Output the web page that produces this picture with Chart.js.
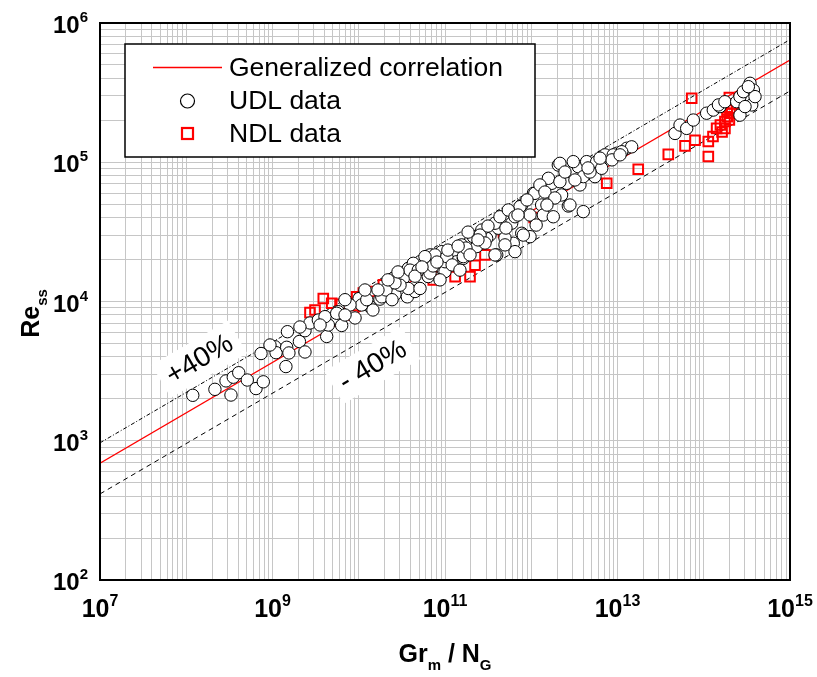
<!DOCTYPE html>
<html>
<head>
<meta charset="utf-8">
<script src="https://cdn.jsdelivr.net/npm/chart.js@4.4.0/dist/chart.umd.min.js"></script>
<style>
  html, body { margin: 0; padding: 0; background: #fff; }
</style>
</head>
<body>
<canvas id="chart" width="817" height="677"></canvas>
<script>
// UDL data (open circles), Gr_m / N_G vs Re_ss
const udlX = [
  1.19e8, 2.15e8, 2.89e8, 3.30e8, 3.51e8, 4.06e8, 5.1e8, 6.44e8, 7.82e8, 7.36e8,
  1.07e9, 1.10e9, 1.46e9, 1.55e9, 1.43e9, 2.05e9, 2.38e9, 1.49e9, 2.38e9, 2.72e9,
  4.25e9, 4.44e9, 6.34e9, 9.06e9, 3.40e9, 5.79e9, 1.01e10, 1.35e10, 1.46e10, 1.76e10,
  2.63e10, 3.66e10, 4.49e10, 4.06e9, 5.55e9, 1.08e10, 1.24e10, 2.52e10, 3.29e10, 3.76e10,
  3.76e10, 1.85e10, 6.40e10, 9.55e10, 9.16e10, 6.70e10, 5.13e10, 4.29e10, 3.93e10, 4.90e10,
  5.13e10, 6.70e10, 6.14e10, 7.66e10, 1.0e11, 1.0e11, 1.25e11, 1.37e11, 1.63e11, 1.95e11,
  2.33e11, 3.32e11, 4.15e11, 3.98e11, 6.19e11, 6.48e11, 7.75e11, 7.75e11, 5.93e11, 4.74e11,
  3.80e11, 3.04e11, 2.67e11, 2.13e11, 1.56e11, 5.93e11, 7.41e11, 9.68e11, 1.06e12, 1.32e12,
  1.73e12, 2.06e12, 2.58e12, 2.69e12, 3.07e12, 3.67e12, 3.51e12, 4.39e12, 5.48e12, 5.74e12,
  4.01e12, 7.82e12, 9.79e12, 1.28e13, 1.46e13, 6.56e12, 7.16e12, 1.12e13, 5.86e10, 1.05e11,
  1.63e11, 2.55e11, 3.80e11, 4.34e11, 5.42e11, 6.48e11, 8.09e11, 1.10e12, 1.38e12, 1.80e12,
  1.58e12, 2.15e12, 2.25e12, 2.81e12, 2.15e12, 3.07e12, 4.01e12, 8.93e12, 4.64e13, 5.31e13,
  6.34e13, 7.57e13, 1.08e14, 1.29e14, 1.54e14, 2.63e14, 3.60e14, 1.48e14, 1.76e14, 2.41e14,
  2.63e14, 2.88e14, 3.44e14, 3.76e14, 3.93e14, 3.01e14, 3.29e14, 3.01e10, 2.07e10, 7.26e10,
  1.21e11, 1.75e11, 2.91e11, 4.96e11, 9.68e11, 1.26e12, 3.21e12, 4.80e12, 8.63e12, 7.92e9,
  6.93e9, 3.56e9, 2.63e10, 1.67e10, 1.18e10, 2.18e10, 2.85e10, 4.49e10, 5.41e10, 8.07e10,
  1.08e11, 1.42e11, 1.85e11, 2.41e11, 3.15e11, 5.09e11, 7.02e11, 8.93e11, 1.44e12, 1.88e12,
  2.46e12, 4.55e12, 6.27e12, 1.07e13, 1.95e11, 8.75e10, 2.43e10, 6.93e9, 2.08e9, 9.35e8,
  1.14e12, 1.52e12, 4.96e11, 1.49e11
];
const udlY = [
  2120, 2340, 2690, 2130, 2860, 3080, 2730, 2370, 2650, 4230,
  4730, 4290, 4690, 4270, 3410, 5160, 4340, 6070, 6170, 7010,
  5610, 6780, 6730, 7620, 7360, 8450, 10500, 9180, 8690, 10400,
  11200, 10800, 11800, 7780, 8230, 9440, 10300, 14700, 14700, 17300,
  12400, 10800, 15100, 16800, 22800, 21600, 19300, 18800, 16800, 16800,
  12400, 16000, 19300, 21600, 16400, 19300, 22800, 19300, 20400, 26900,
  24800, 30000, 33600, 21600, 26200, 22800, 30900, 49300, 43000, 38500,
  36500, 28400, 32600, 29200, 25500, 36500, 48000, 29200, 59800, 49300,
  70600, 95500, 70600, 48500, 85500, 68700, 92900, 101000, 78800, 101000,
  44200, 110000, 116000, 126000, 129000, 90500, 113000, 119000, 21000, 21000,
  21000, 30000, 21600, 40600, 45400, 40600, 30000, 59800, 41800, 40600,
  76700, 72500, 58200, 49300, 98200, 101000, 78800, 113000, 161000, 185000,
  175000, 201000, 225000, 237000, 251000, 218000, 258000, 258000, 272000, 272000,
  296000, 321000, 369000, 330000, 296000, 251000, 349000, 13100, 12100, 18000,
  18300, 24200, 26300, 28600, 41800, 68700, 74600, 85100, 104000, 9440,
  8000, 6780, 13600, 12100, 12100, 14300, 16300, 15200, 17700, 19200,
  23400, 25000, 31500, 27700, 34800, 33700, 41800, 53600, 61100, 55400,
  85100, 91000, 107000, 113000, 21600, 14300, 10300, 10300, 6560, 4870,
  35400, 49300, 25500, 16800
];

// NDL data (red squares)
const ndlX = [
  3.11e9, 3.88e9, 4.86e9, 6.07e9, 2.72e9, 8.65e9, 9.46e9, 1.13e10, 1.47e10, 1.93e10,
  7.31e10, 8.36e10, 1.31e11, 1.95e11, 2.23e11, 2.91e11, 4.77e11, 1.08e12, 7.50e12, 1.74e13,
  3.88e13, 6.07e13, 7.92e13, 1.13e14, 1.13e14, 1.28e14, 1.41e14, 1.56e14, 1.76e14, 7.25e13,
  1.98e14, 1.87e14, 2.01e14, 1.87e14, 2.11e14, 1.98e14, 1.76e14, 2.18e14, 1.63e14
];
const ndlY = [
  8690, 10500, 9710, 9550, 8320, 8000, 10800, 11500, 11800, 13200,
  14300, 17700, 15100, 15100, 18200, 21600, 31300, 40100, 70600, 89000,
  114000, 131000, 144000, 110000, 141000, 153000, 175000, 185000, 175000, 288000,
  292000, 237000, 225000, 212000, 244000, 201000, 196000, 262000, 165000
];

// correlation line and +/-40 % band, end points at the plot edges
const lineX = [1e7, 1e15];
const corrY = [690, 5.42e5];
const plusY = [966, 7.6e5];
const minusY = [415, 3.25e5];

// decade labels
const xLabelExps = [7, 9, 11, 13, 15];
const yLabelExps = [2, 3, 4, 5, 6];

const FONT = '"Liberation Sans", Arial, sans-serif';

function toPoints(xs, ys) {
  return xs.map((x, i) => ({ x, y: ys[i] }));
}

// 1..9 x 10^n grid lines for a log axis
function logGrid(minExp, maxExp) {
  const values = [];
  for (let e = minExp; e < maxExp; e++) {
    for (let m = 1; m < 10; m++) values.push(m * Math.pow(10, e));
  }
  values.push(Math.pow(10, maxExp));
  return values.map((value) => ({ value }));
}

function drawPower(ctx, exp, x, baseY, supY, align, bigSize, smallSize) {
  ctx.font = `bold ${bigSize}px ${FONT}`;
  const w1 = ctx.measureText("10").width;
  ctx.font = `bold ${smallSize}px ${FONT}`;
  const w2 = ctx.measureText(String(exp)).width;
  const total = w1 + w2;
  const left = align === "center" ? x - total / 2 : x - total;
  ctx.textAlign = "left";
  ctx.textBaseline = "alphabetic";
  ctx.font = `bold ${bigSize}px ${FONT}`;
  ctx.fillText("10", left, baseY);
  ctx.font = `bold ${smallSize}px ${FONT}`;
  ctx.fillText(String(exp), left + w1, supY);
}

// text run with subscripts: [[text, isSub], ...]
function drawRuns(ctx, runs, x, y, bigSize, smallSize, subShift) {
  let cx = x;
  runs.forEach(([text, sub]) => {
    ctx.font = `bold ${sub ? smallSize : bigSize}px ${FONT}`;
    ctx.fillText(text, cx, sub ? y + subShift : y);
    cx += ctx.measureText(text).width;
  });
  return cx - x;
}

function runsWidth(ctx, runs, bigSize, smallSize) {
  let w = 0;
  runs.forEach(([text, sub]) => {
    ctx.font = `bold ${sub ? smallSize : bigSize}px ${FONT}`;
    w += ctx.measureText(text).width;
  });
  return w;
}

const bandLabels = {
  id: "bandLabels",
  beforeDatasetsDraw(chart) {
    const { ctx, scales } = chart;
    const x = scales.x, y = scales.y;
    // angle of the correlation line in pixel space
    const dx = x.getPixelForValue(lineX[1]) - x.getPixelForValue(lineX[0]);
    const dy = y.getPixelForValue(corrY[1]) - y.getPixelForValue(corrY[0]);
    const angle = Math.atan2(dy, dx);
    const labels = [
      { text: "+40%", x: 1.44e8, y: 3800 },
      { text: "- 40%", x: 1.46e10, y: 3440 }
    ];
    ctx.save();
    ctx.font = `28px ${FONT}`;
    labels.forEach((l) => {
      const px = x.getPixelForValue(l.x);
      const py = y.getPixelForValue(l.y);
      const w = ctx.measureText(l.text).width;
      ctx.save();
      ctx.translate(px, py);
      ctx.rotate(angle);
      ctx.fillStyle = "#fff";
      ctx.fillRect(-w / 2 - 8, -20, w + 16, 38);
      ctx.fillStyle = "#000";
      ctx.textAlign = "center";
      ctx.textBaseline = "middle";
      ctx.fillText(l.text, 0, 0);
      ctx.restore();
    });
    ctx.restore();
  }
};

const frameAndText = {
  id: "frameAndText",
  afterDraw(chart) {
    const { ctx, chartArea: a, scales } = chart;
    ctx.save();

    // plot frame
    ctx.strokeStyle = "#000";
    ctx.lineWidth = 2;
    ctx.strokeRect(a.left, a.top, a.right - a.left, a.bottom - a.top);

    ctx.fillStyle = "#000";
    // y tick labels
    yLabelExps.forEach((e) => {
      const py = scales.y.getPixelForValue(Math.pow(10, e));
      drawPower(ctx, e, 88, py + 10, py - 1, "right", 24, 15);
    });
    // x tick labels
    xLabelExps.forEach((e) => {
      const px = scales.x.getPixelForValue(Math.pow(10, e));
      drawPower(ctx, e, px, 617, 606, "center", 25, 16);
    });

    // x axis title
    ctx.textAlign = "left";
    ctx.textBaseline = "alphabetic";
    const xRuns = [["Gr", false], ["m", true], [" / N", false], ["G", true]];
    const xw = runsWidth(ctx, xRuns, 25, 15);
    drawRuns(ctx, xRuns, (a.left + a.right) / 2 - xw / 2, 662, 25, 15, 8);

    // y axis title
    const yRuns = [["Re", false], ["ss", true]];
    const yw = runsWidth(ctx, yRuns, 25, 15);
    ctx.save();
    ctx.translate(39, (a.top + a.bottom) / 2 + yw / 2 + 12);
    ctx.rotate(-Math.PI / 2);
    drawRuns(ctx, yRuns, 0, 0, 25, 15, 8);
    ctx.restore();

    // legend box
    ctx.fillStyle = "#fff";
    ctx.fillRect(125, 44, 410, 113);
    ctx.strokeStyle = "#000";
    ctx.lineWidth = 1.5;
    ctx.strokeRect(125, 44, 410, 113);

    ctx.strokeStyle = "#ff0000";
    ctx.lineWidth = 1.4;
    ctx.beginPath();
    ctx.moveTo(153, 67.5);
    ctx.lineTo(222, 67.5);
    ctx.stroke();

    ctx.strokeStyle = "#000";
    ctx.lineWidth = 1.2;
    ctx.fillStyle = "#fff";
    ctx.beginPath();
    ctx.arc(187.5, 101, 7, 0, Math.PI * 2);
    ctx.fill();
    ctx.stroke();

    ctx.strokeStyle = "#ff0000";
    ctx.lineWidth = 2.2;
    ctx.strokeRect(182, 128, 11, 11);

    ctx.fillStyle = "#000";
    ctx.font = `26.5px ${FONT}`;
    ctx.textAlign = "left";
    ctx.textBaseline = "alphabetic";
    ctx.fillText("Generalized correlation", 229, 76);
    ctx.fillText("UDL data", 229, 109);
    ctx.fillText("NDL data", 229, 142);

    ctx.restore();
  }
};

const gridStyle = { color: "#c6c6c6", lineWidth: 1, drawTicks: false };

new Chart(document.getElementById("chart"), {
  type: "scatter",
  data: {
    datasets: [
      {
        label: "UDL data",
        data: toPoints(udlX, udlY),
        pointStyle: "circle",
        pointRadius: 6.2,
        borderColor: "#000",
        backgroundColor: "#fff",
        borderWidth: 1,
        order: 1
      },
      {
        label: "NDL data",
        data: toPoints(ndlX, ndlY),
        pointStyle: "rect",
        pointRadius: 6.8,
        borderColor: "#ff0000",
        backgroundColor: "rgba(255,255,255,0)",
        borderWidth: 2,
        order: 2
      },
      {
        type: "line",
        label: "Generalized correlation",
        data: toPoints(lineX, corrY),
        borderColor: "#ff0000",
        borderWidth: 1.4,
        pointRadius: 0,
        order: 3
      },
      {
        type: "line",
        label: "+40%",
        data: toPoints(lineX, plusY),
        borderColor: "#000",
        borderWidth: 1,
        borderDash: [4, 2, 1, 2],
        pointRadius: 0,
        order: 4
      },
      {
        type: "line",
        label: "-40%",
        data: toPoints(lineX, minusY),
        borderColor: "#000",
        borderWidth: 1,
        borderDash: [5, 4],
        pointRadius: 0,
        order: 4
      }
    ]
  },
  options: {
    responsive: false,
    animation: false,
    events: [],
    layout: { padding: { top: 23, right: 27, left: 0, bottom: 0 } },
    plugins: {
      legend: { display: false },
      tooltip: { enabled: false }
    },
    scales: {
      x: {
        type: "logarithmic",
        min: 1e7,
        max: 1e15,
        afterBuildTicks: (scale) => { scale.ticks = logGrid(7, 15); },
        afterFit: (scale) => { scale.height = 97; },
        ticks: { display: false },
        grid: gridStyle,
        border: { display: false }
      },
      y: {
        type: "logarithmic",
        min: 1e2,
        max: 1e6,
        afterBuildTicks: (scale) => { scale.ticks = logGrid(2, 6); },
        afterFit: (scale) => { scale.width = 100; },
        ticks: { display: false },
        grid: gridStyle,
        border: { display: false }
      }
    }
  },
  plugins: [bandLabels, frameAndText]
});
</script>
</body>
</html>
